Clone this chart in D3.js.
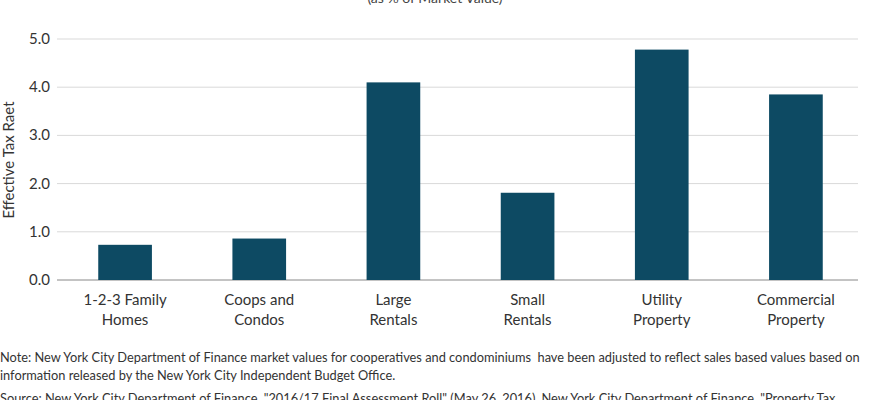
<!DOCTYPE html>
<html><head><meta charset="utf-8">
<script src="https://cdn.jsdelivr.net/npm/d3@7"></script>
<style>body{margin:0;background:#fff;font-family:Lato,sans-serif}</style>
</head><body>
<script>
var categories = [["1-2-3 Family","Homes"],["Coops and","Condos"],["Large","Rentals"],["Small","Rentals"],["Utility","Property"],["Commercial","Property"]];
var values = [0.73, 0.86, 4.10, 1.81, 4.78, 3.85];
var ticks = [0, 1, 2, 3, 4, 5];

var svg = d3.select("body").append("svg").attr("width", 870).attr("height", 400);
var x = d3.scaleBand().domain(d3.range(6)).range([58, 863]).paddingInner(0.6).paddingOuter(0.3);
var y = d3.scaleLinear().domain([0, 5]).range([280, 39]);

svg.selectAll(".grid").data(ticks).enter().append("line")
  .attr("x1", 57).attr("x2", 858).attr("y1", d => y(d)).attr("y2", d => y(d))
  .attr("stroke", d => d === 0 ? "#888" : "#d9d9d9").attr("stroke-width", 1);
svg.selectAll(".tl").data(ticks).enter().append("text")
  .attr("x", 50).attr("y", d => y(d) + 5).attr("text-anchor", "end")
  .attr("font-size", 15).attr("fill", "#333").text(d => d.toFixed(1));

svg.selectAll(".bar").data(values).enter().append("rect")
  .attr("x", (d, i) => x(i)).attr("width", x.bandwidth())
  .attr("y", d => y(d)).attr("height", d => y(0) - y(d)).attr("fill", "#0d4a63");

categories.forEach(function (c, i) {
  var t = svg.append("text").attr("text-anchor", "middle").attr("font-size", 15).attr("fill", "#333");
  c.forEach(function (l, k) {
    t.append("tspan").attr("x", x(i) + x.bandwidth() / 2).attr("y", 305 + k * 20).text(l);
  });
});

svg.append("text").attr("transform", "translate(14,160) rotate(-90)").attr("text-anchor", "middle")
  .attr("font-size", 15).attr("fill", "#333").text("Effective Tax Raet");
svg.append("text").attr("x", 435).attr("y", 3).attr("text-anchor", "middle")
  .attr("font-size", 14).attr("fill", "#444").text("(as % of Market Value)");

var notes = [
  ["Note: New York City Department of Finance market values for cooperatives and condominiums  have been adjusted to reflect sales based values based on", 362],
  ["information released by the New York City Independent Budget Office.", 380],
  ["Source: New York City Department of Finance, \"2016/17 Final Assessment Roll\" (May 26, 2016), New York City Department of Finance, \"Property Tax", 403]
];
svg.selectAll(".note").data(notes).enter().append("text")
  .attr("x", 0).attr("y", d => d[1]).attr("font-size", 12.8).attr("fill", "#333")
  .attr("xml:space", "preserve").style("white-space", "pre").text(d => d[0]);
</script>
</body></html>
